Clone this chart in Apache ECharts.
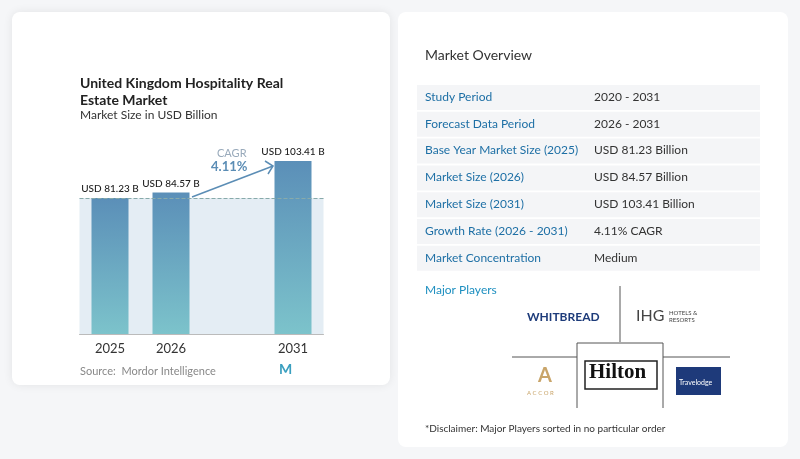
<!DOCTYPE html>
<html><head><meta charset="utf-8">
<script src="https://cdn.jsdelivr.net/npm/echarts@6/dist/echarts.min.js"></script>
<style>html,body{margin:0;padding:0;background:#f5f6f8}#c{width:800px;height:459px}</style>
</head><body><div id="c"></div>
<script>
const categories = ['2025','2026','','2031'];
const values = [81.23, 84.57, null, 103.41];
const valueLabels = ['USD 81.23 B','USD 84.57 B','','USD 103.41 B'];
const rowLabels = ['Study Period','Forecast Data Period','Base Year Market Size (2025)','Market Size (2026)','Market Size (2031)','Growth Rate (2026 - 2031)','Market Concentration'];
const rowValues = ['2020 - 2031','2026 - 2031','USD 81.23 Billion','USD 84.57 Billion','USD 103.41 Billion','4.11% CAGR','Medium'];
const F = 'Lato, "Open Sans", sans-serif';
const chart = echarts.init(document.getElementById('c'));
const g = [];
g.push({type:'rect',shape:{x:12,y:12,width:378,height:373,r:8},style:{fill:'#fff',shadowBlur:10,shadowColor:'rgba(0,0,0,0.08)'},z:-10});
g.push({type:'rect',shape:{x:398,y:12,width:390,height:435,r:8},style:{fill:'#fff'},z:-10});
g.push({type:'text',left:80,top:75,style:{text:'United Kingdom Hospitality Real\nEstate Market',font:'bold 14px '+F,fill:'#222',lineHeight:17}});
g.push({type:'text',left:80,top:109,style:{text:'Market Size in USD Billion',font:'12px '+F,fill:'#333'}});
g.push({type:'text',left:80,top:366,style:{text:'Source:  Mordor Intelligence',font:'11px '+F,fill:'#888'}});
g.push({type:'text',left:279,top:362,style:{text:'M',font:'bold 14px '+F,fill:'#3a9fbf'}});
g.push({type:'text',left:217,top:148,style:{text:'CAGR',font:'11px '+F,fill:'#9ab'}});
g.push({type:'text',left:211,top:160,style:{text:'4.11%',font:'bold 13px '+F,fill:'#5b8db5'}});
g.push({type:'polyline',shape:{points:[[192,197],[273,166]]},style:{stroke:'#5b8db5',lineWidth:1.5,fill:null}});
g.push({type:'polyline',shape:{points:[[265,161],[273,166],[268,174]]},style:{stroke:'#5b8db5',lineWidth:1.5,fill:null}});
g.push({type:'text',left:425,top:48,style:{text:'Market Overview',font:'14px '+F,fill:'#333'}});
rowLabels.forEach((l,i)=>{
  const y=85+i*26.8;
  g.push({type:'rect',shape:{x:417,y:y,width:343,height:25},style:{fill:'#f4f5f7'},z:-5});
  g.push({type:'text',left:425,top:y+6,style:{text:l,font:'12px '+F,fill:'#1d6fa5'}});
  g.push({type:'text',left:594,top:y+6,style:{text:rowValues[i],font:'12px '+F,fill:'#333'}});
});
g.push({type:'text',left:425,top:284,style:{text:'Major Players',font:'12px '+F,fill:'#1d8fc0'}});
const ln=(pts)=>g.push({type:'polyline',shape:{points:pts},style:{stroke:'#555',lineWidth:1,fill:null}});
ln([[620,286],[620,342]]);ln([[512,357],[577,357]]);ln([[663,357],[730,357]]);
ln([[577,408],[577,343],[663,343],[663,408]]);
g.push({type:'text',left:527,top:311,style:{text:'WHITBREAD',font:'bold 12px '+F,fill:'#1d3b7a'}});
g.push({type:'text',left:636,top:308,style:{text:'IHG',font:'16px '+F,fill:'#444'}});
g.push({type:'text',left:669,top:310,style:{text:'HOTELS &\nRESORTS',font:'6px '+F,fill:'#444',lineHeight:7}});
g.push({type:'rect',shape:{x:585,y:361,width:72,height:28},style:{fill:'#fff',stroke:'#222',lineWidth:1.5}});
g.push({type:'text',left:589,top:362,style:{text:'Hilton',font:'bold 21px "Liberation Serif",serif',fill:'#111'}});
g.push({type:'text',left:538,top:366,style:{text:'A',font:'bold 20px '+F,fill:'#c9a56a'}});
g.push({type:'text',left:527,top:390,style:{text:'A C C O R',font:'6px '+F,fill:'#c9a56a'}});
g.push({type:'rect',shape:{x:676,y:367,width:45,height:28},style:{fill:'#1e3a7a'}});
g.push({type:'text',left:679,top:379,style:{text:'Travelodge',font:'7px '+F,fill:'#fff'}});
g.push({type:'text',left:425,top:424,style:{text:'*Disclaimer: Major Players sorted in no particular order',font:'10px '+F,fill:'#333'}});
chart.setOption({
  animation:false,
  grid:{left:79.5,right:800-323.5,top:161,bottom:459-334,containLabel:false},
  xAxis:{type:'category',data:categories,axisTick:{show:false},axisLine:{lineStyle:{color:'#bbb'}},
    axisLabel:{fontSize:13,color:'#333',fontFamily:F,margin:8}},
  yAxis:{type:'value',min:0,max:103.41,show:false,splitLine:{show:false}},
  series:[{type:'bar',data:values,barWidth:37,
    itemStyle:{color:new echarts.graphic.LinearGradient(0,0,0,1,[{offset:0,color:'#5b8fb8'},{offset:1,color:'#7cc3cb'}])},
    label:{show:true,position:'top',distance:4,fontSize:10,fontWeight:500,color:'#222',fontFamily:F,formatter:p=>valueLabels[p.dataIndex]},
    markArea:{silent:true,itemStyle:{color:'#e4edf4'},data:[[{xAxis:'2025',yAxis:0},{xAxis:'2031',yAxis:81.23}]]},
    markLine:{silent:true,symbol:'none',label:{show:false},lineStyle:{color:'#8aa',type:'dashed',width:1},data:[{yAxis:81.23}]},
    z:3}],
  graphic:g
});
</script></body></html>
